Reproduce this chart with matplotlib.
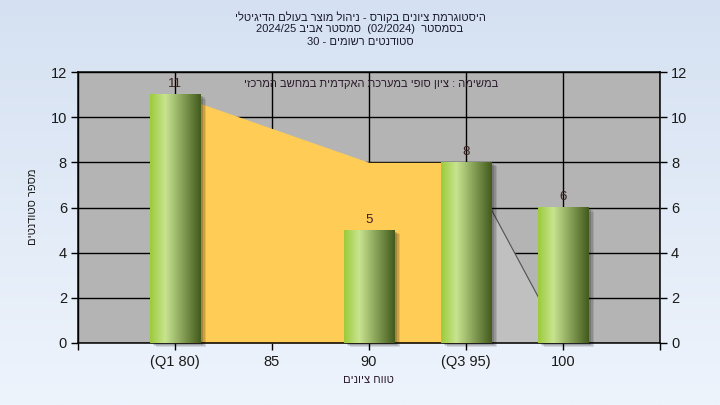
import numpy as np
import matplotlib
matplotlib.use('Agg')
import matplotlib.pyplot as plt
from matplotlib.colors import LinearSegmentedColormap
from matplotlib.patches import Rectangle

plt.rcParams['font.family'] = ['Liberation Sans', 'DejaVu Sans']


def rtl(s):
    # matplotlib has no bidi support, so Hebrew runs are given in visual order
    return s[::-1]


categories = ['(Q1 80)', '85', '90', '(Q3 95)', '100']
counts = [11, 0, 5, 8, 6]
iqr_x = [0, 2, 3]
iqr_y = [11, 8, 8]
tail_x = [3, 4]
tail_y = [8, 0]

title_1 = rtl('היסטוגרמת ציונים בקורס - ניהול מוצר בעולם הדיגיטלי')
title_2 = '2024/25 ' + rtl('סמסטר אביב') + '  (02/2024)  ' + rtl('בסמסטר')
title_3 = '30 - ' + rtl('סטודנטים רשומים')
subtitle = rtl('במשימה : ציון סופי במערכת האקדמית במחשב המרכזי')
xlabel = rtl('טווח ציונים')
ylabel = rtl('מספר סטודנטים')

W, H = 720, 405
fig = plt.figure(figsize=(7.2, 4.05), dpi=100)

# light blue page gradient
bg = fig.add_axes([0, 0, 1, 1], zorder=-5)
grad = np.linspace(0, 1, 256).reshape(-1, 1)
bg_cmap = LinearSegmentedColormap.from_list('bg', ['#d5e1f2', '#eef4fc'])
bg.imshow(grad, cmap=bg_cmap, aspect='auto', extent=[0, 1, 0, 1], origin='upper')
bg.axis('off')

ax = fig.add_axes([78 / W, 1 - 343 / H, (660 - 78) / W, (343 - 72) / H])
ax.set_facecolor('#b4b4b4')
x = np.arange(len(categories))

ax.fill_between(iqr_x, iqr_y, 0, color='#ffcc55', lw=0, zorder=2)
ax.fill_between(tail_x, tail_y, 0, color='#c0c0c0', lw=0, zorder=2)
ax.plot(tail_x, tail_y, color='#505050', lw=0.8, zorder=2.5)

bar_cmap = LinearSegmentedColormap.from_list(
    'bar', [(0, '#9bcb3a'), (0.3, '#c8e490'), (0.65, '#849f55'), (1, '#42591c')])
hgrad = np.linspace(0, 1, 256).reshape(1, -1)
w = 0.52
dx, dy = 0.05, 0.18
for xi, v in zip(x, counts):
    if v == 0:
        continue
    for k, a in enumerate([0.10, 0.12, 0.16]):
        s = 1 - k * 0.3
        ax.add_patch(Rectangle((xi - w / 2 + dx * s + 0.01, -dy * s), w, v,
                               color='black', alpha=a, lw=0, zorder=2.8, clip_on=False))
    ax.imshow(hgrad, cmap=bar_cmap, aspect='auto', extent=[xi - w / 2, xi + w / 2, 0, v],
              zorder=3, interpolation='bicubic')
    ax.text(xi, v + 0.2, str(v), ha='center', va='bottom', fontsize=9.5,
            color='#3a1f1f', zorder=5)

ax.set_xlim(-1, 5)
ax.set_ylim(0, 12)
ax.set_xticks(np.arange(-1, 6))
ax.set_xticklabels([''] + categories + [''])
ax.set_yticks(np.arange(0, 13, 2))
ax.grid(True, color='black', lw=1.0, zorder=1)
ax.set_axisbelow(True)
ax.tick_params(axis='both', length=5, width=1, color='black', labelsize=10.5,
               labelcolor='#1a1a1a', direction='out')
ax.tick_params(axis='y', left=True, right=True, labelleft=True, labelright=True, pad=3)
for sp in ax.spines.values():
    sp.set_color('black')
    sp.set_linewidth(1.1)

ax.text(2.02, 11.45, subtitle, ha='center', va='center', fontsize=8, color='#2a1a2a', zorder=6)

fig.text(0.5, 1 - 17 / H, title_1, ha='center', va='center', fontsize=8, color='#1a1a2e')
fig.text(0.5, 1 - 29.5 / H, title_2, ha='center', va='center', fontsize=8, color='#1a1a2e')
fig.text(0.5, 1 - 42 / H, title_3, ha='center', va='center', fontsize=8, color='#1a1a2e')
fig.text(368 / W, 1 - 380 / H, xlabel, ha='center', va='center', fontsize=8, color='#2a1a2a')
fig.text(33 / W, 1 - 207 / H, ylabel, ha='center', va='center', rotation=90,
         fontsize=8, color='#1a1a1a')

fig.savefig('out.png', dpi=100)
